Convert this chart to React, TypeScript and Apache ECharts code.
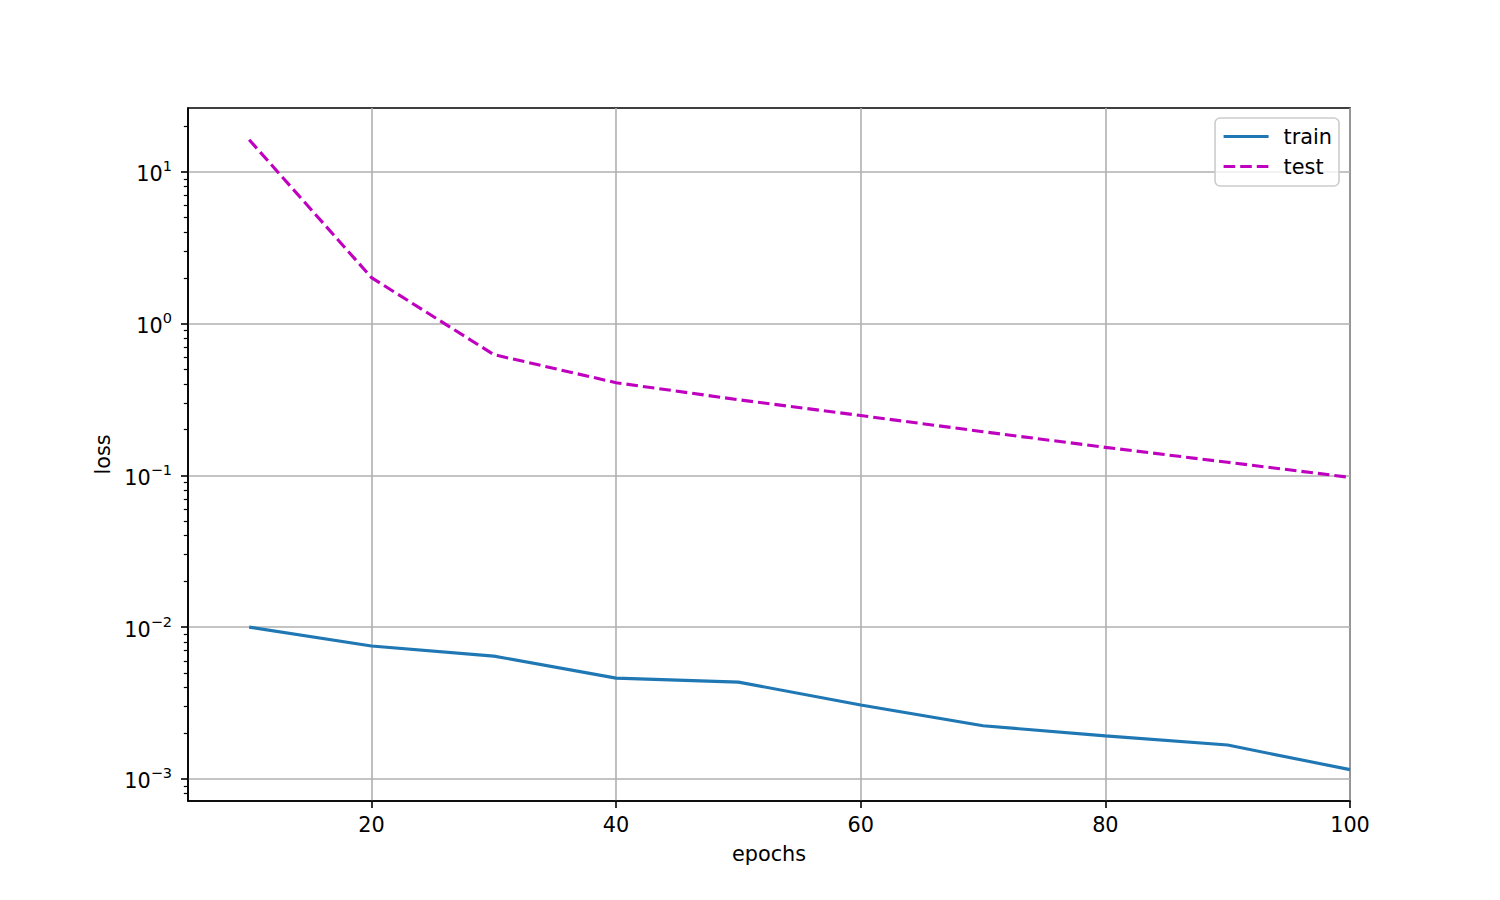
import React, { useEffect, useRef } from "react";
import * as echarts from "echarts";

const epochs = [10, 20, 30, 40, 50, 60, 70, 80, 90, 100];
const trainLoss = [0.01, 0.0075, 0.00644, 0.00461, 0.00434, 0.00307, 0.00224, 0.00192, 0.00167, 0.00115];
const testLoss = [16.3, 2.01, 0.625, 0.408, 0.315, 0.248, 0.194, 0.153, 0.122, 0.097];
const xTicks = [20, 40, 60, 80, 100];
const yMajorExponents = [-3, -2, -1, 0, 1];
const xRange = [5, 100];
const yRangeLog = [-3.146, 1.421];

const FONT = "DejaVu Sans";
const FS = 20.8;

export default function App() {
  const ref = useRef<HTMLDivElement>(null);
  useEffect(() => {
    if (!ref.current) return;
    const chart = echarts.init(ref.current, undefined, { renderer: "svg" });
    const minor: number[] = [];
    for (let k = -5; k <= 2; k++) {
      for (let m = 2; m <= 9; m++) {
        const l = Math.log10(m * Math.pow(10, k));
        if (l > yRangeLog[0] && l < yRangeLog[1]) minor.push(l);
      }
    }
    const toPts = (vals: number[]) => epochs.map((e, i) => [e, Math.log10(vals[i])]);
    const sup = (v: number) => {
      const e = Math.round(v);
      return `{b|10}{s|${e < 0 ? "\u2212" + Math.abs(e) : e}}`;
    };
    chart.setOption({
      animation: false,
      backgroundColor: "#ffffff",
      textStyle: { fontFamily: FONT },
      grid: {
        left: 188,
        right: 150,
        top: 108,
        bottom: 99,
        show: true,
        borderColor: "#000000",
        borderWidth: 1.6,
        backgroundColor: "transparent",
      },
      legend: {
        orient: "vertical",
        right: 161,
        top: 118,
        itemWidth: 45,
        itemHeight: 20,
        itemGap: 9,
        padding: [8, 7, 9, 7],
        backgroundColor: "rgba(255,255,255,0.8)",
        borderColor: "#cccccc",
        borderWidth: 1.6,
        borderRadius: 5,
        itemStyle: { opacity: 0, borderWidth: 0 },
        lineStyle: { width: 3.1 },
        textStyle: { fontFamily: FONT, fontSize: FS, color: "#000", padding: [0, 0, 0, 10] },
        data: ["train", "test"],
      },
      xAxis: {
        type: "value",
        min: xRange[0],
        max: xRange[1],
        name: "epochs",
        nameLocation: "middle",
        nameGap: 42,
        nameTextStyle: { fontFamily: FONT, fontSize: FS, color: "#000" },
        axisLine: { show: true, onZero: false, lineStyle: { color: "#000", width: 1.6 } },
        axisTick: { show: true, length: 7, lineStyle: { color: "#000", width: 1.6 }, customValues: xTicks },
        axisLabel: { fontFamily: FONT, fontSize: FS, color: "#000", margin: 13, customValues: xTicks },
        splitLine: { show: true, lineStyle: { color: "#b0b0b0", width: 1.6 } },
      },
      yAxis: [
        {
          type: "value",
          min: yRangeLog[0],
          max: yRangeLog[1],
          position: "left",
          name: "loss",
          nameLocation: "middle",
          nameGap: 70,
          nameTextStyle: { fontFamily: FONT, fontSize: FS, color: "#000" },
          axisLine: { show: true, onZero: false, lineStyle: { color: "#000", width: 1.6 } },
          axisTick: { show: true, length: 7, lineStyle: { color: "#000", width: 1.6 }, customValues: yMajorExponents },
          axisLabel: {
            margin: 16,
            customValues: yMajorExponents,
            formatter: (v: number) => sup(v),
            rich: {
              b: { fontFamily: FONT, fontSize: FS, color: "#000", lineHeight: 26, verticalAlign: "bottom" },
              s: { fontFamily: FONT, fontSize: 14.5, color: "#000", lineHeight: 26, verticalAlign: "top", padding: [0, 0, 10, 0] },
            },
          },
          splitLine: { show: true, lineStyle: { color: "#b0b0b0", width: 1.6 } },
        },
        {
          type: "value",
          min: yRangeLog[0],
          max: yRangeLog[1],
          position: "left",
          axisLine: { show: false },
          axisLabel: { show: false },
          splitLine: { show: false },
          axisTick: { show: true, length: 4.2, lineStyle: { color: "#000", width: 1.2 }, customValues: minor },
        },
      ],
      series: [
        {
          name: "train",
          type: "line",
          data: toPts(trainLoss),
          symbol: "none",
          showSymbol: false,
          color: "#1f77b4",
          lineStyle: { color: "#1f77b4", width: 3.1 },
          yAxisIndex: 0,
        },
        {
          name: "test",
          type: "line",
          data: toPts(testLoss),
          symbol: "none",
          showSymbol: false,
          color: "#bf00bf",
          lineStyle: { color: "#bf00bf", width: 3.1, type: [11.6, 5] },
          yAxisIndex: 0,
        },
      ],
    });
    return () => chart.dispose();
  }, []);
  return <div ref={ref} style={{ position: "absolute", left: 0, top: 0, width: 1500, height: 900 }} />;
}
